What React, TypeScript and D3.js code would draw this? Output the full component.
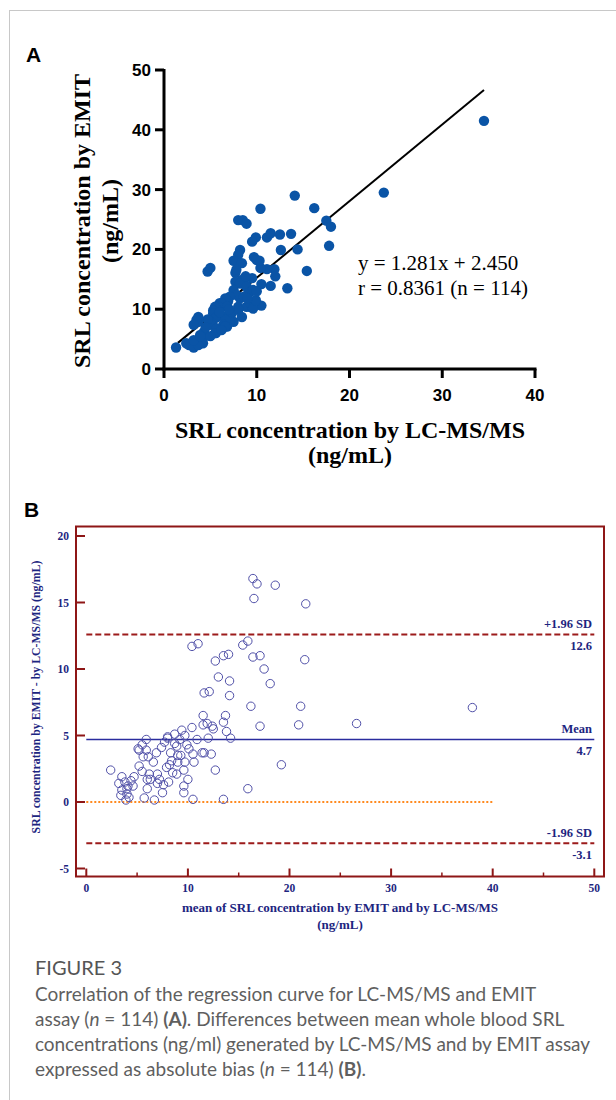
import React from "react";
import * as d3 from "d3";

// Panel A: SRL by LC-MS/MS (x) vs SRL by EMIT (y), ng/mL
const scatterA: [number, number][] = [
  [34.5, 41.5], [23.7, 29.5], [14.1, 29.0], [16.2, 26.9], [10.4, 26.8], [17.5, 24.8], [18.0, 23.8], [17.8, 20.6],
  [8.0, 24.9], [8.5, 24.9], [8.9, 24.3], [9.9, 22.0], [9.5, 21.3], [11.1, 22.0], [11.5, 22.7], [12.5, 22.5], [13.7, 22.6],
  [12.6, 19.9], [14.4, 20.0], [15.4, 16.4], [13.3, 13.5], [11.5, 13.9], [11.9, 16.7], [11.1, 16.7], [10.4, 16.9], [10.3, 18.1], [9.7, 18.7], [10.0, 18.2],
  [10.5, 14.2], [10.5, 10.6], [9.5, 15.2], [8.2, 19.9], [8.0, 19.1], [7.5, 18.1], [8.4, 17.7], [7.7, 16.1], [7.8, 16.6], [4.7, 16.3], [5.0, 16.9],
  [8.4, 14.9], [8.8, 14.0], [7.7, 14.6], [8.2, 14.3], [7.5, 13.2], [8.9, 13.8], [9.3, 12.9], [9.1, 12.7], [9.6, 13.2], [8.2, 11.8], [7.8, 12.4], [7.1, 12.1], [8.6, 12.1],
  [9.3, 10.4], [8.0, 10.4], [8.9, 10.4], [9.3, 11.0], [9.6, 10.1], [6.9, 11.3], [6.6, 11.8], [6.0, 11.0], [6.2, 11.0], [5.9, 10.4], [6.8, 10.4], [5.5, 10.4], [5.3, 9.8],
  [5.3, 9.3], [7.3, 9.3], [8.0, 9.9], [8.4, 8.7], [5.7, 8.7], [6.6, 8.7], [5.5, 8.5], [7.1, 9.3], [7.5, 7.9], [7.1, 7.9], [6.6, 8.2], [4.8, 8.2], [6.4, 7.4], [5.2, 7.6], [5.1, 7.4],
  [5.7, 6.8], [6.8, 7.1], [6.6, 7.1], [5.6, 6.0], [5.5, 6.0], [4.7, 8.3], [3.7, 7.9], [3.7, 8.7], [3.5, 8.2], [3.2, 7.4], [4.3, 6.2], [3.9, 5.7], [4.2, 5.1], [4.2, 4.3], [3.9, 4.3],
  [3.4, 4.0], [2.7, 4.0], [3.0, 4.3], [2.4, 4.3], [3.2, 3.6], [3.7, 4.0], [3.2, 4.8], [3.9, 5.5], [1.3, 3.6], [9.9, 11.5], [10.0, 13.0], [7.0, 10.0], [6.0, 9.5], [4.5, 7.0],
  [8.8, 15.5], [9.0, 11.8], [5.0, 5.5], [6.2, 6.5], [12.0, 15.5],
];
const slope = 1.281;
const intercept = 2.45;
const fitRange = [1.5, 34.5];
const ticksA_x = [0, 10, 20, 30, 40];
const ticksA_y = [0, 10, 20, 30, 40, 50];

// Panel B: Bland-Altman, mean of methods (x) vs difference EMIT - LC-MS/MS (y)
const blandB: [number, number][] = [
  [16.4, 16.8], [16.8, 16.4], [18.6, 16.3], [16.5, 15.3], [21.6, 14.9], [10.4, 11.7], [11.0, 11.9], [15.4, 11.8], [15.9, 12.1], [16.4, 10.9],
  [17.1, 11.0], [13.5, 11.0], [14.0, 11.1], [12.7, 10.6], [21.5, 10.7], [17.5, 10.0], [13.0, 9.4], [14.1, 9.1], [18.1, 8.9], [11.6, 8.2],
  [12.1, 8.3], [14.1, 8.0], [16.2, 7.2], [21.1, 7.2], [38.0, 7.1], [11.5, 6.5], [13.7, 6.5], [13.5, 6.0], [11.5, 5.8], [12.4, 5.7],
  [12.5, 5.5], [10.4, 5.6], [9.4, 5.4], [17.1, 5.7], [20.9, 5.8], [26.6, 5.9], [13.8, 5.3], [14.2, 4.8], [8.7, 5.1], [8.0, 4.9],
  [9.2, 4.7], [10.9, 4.7], [5.9, 4.7], [7.7, 4.5], [8.9, 4.2], [10.1, 4.0], [5.1, 4.0], [5.9, 3.9], [5.5, 4.3], [6.9, 3.7],
  [8.3, 3.7], [10.5, 3.6], [11.4, 3.7], [11.6, 3.7], [12.3, 3.6], [5.6, 3.4], [6.1, 3.4], [9.0, 3.5], [8.4, 3.1], [9.7, 3.0],
  [9.0, 3.0], [10.6, 3.0], [5.2, 2.7], [8.5, 2.2], [8.9, 2.1], [9.6, 2.4], [12.7, 2.4], [19.2, 2.8], [2.4, 2.4], [6.2, 2.1],
  [7.0, 2.1], [4.7, 1.9], [3.5, 1.9], [6.3, 1.7], [7.2, 1.7], [10.0, 1.7], [3.8, 1.5], [3.2, 1.4], [4.6, 1.2], [4.1, 1.2],
  [7.0, 1.4], [7.6, 1.3], [8.1, 1.5], [9.6, 1.2], [6.0, 1.0], [3.5, 0.9], [4.0, 0.6], [7.5, 0.7], [9.6, 0.7], [15.9, 1.0],
  [3.4, 0.5], [5.7, 0.3], [6.7, 0.15], [3.9, 0.15], [10.5, 0.2], [13.5, 0.2], [4.2, 0.35], [8.7, 4.4], [9.3, 3.5], [5.2, 3.9],
  [8.0, 4.8], [6.0, 1.7], [4.4, 1.6], [7.9, 2.6], [6.6, 3.0], [9.9, 4.3], [11.9, 5.9], [4.0, 1.0], [8.2, 2.8], [12.0, 4.8],
  [9.7, 5.0], [5.5, 2.3], [7.4, 4.1],
];
const meanDiff = 4.7;
const upperLoA = 12.6;
const lowerLoA = -3.1;
const ticksB_x = [0, 10, 20, 30, 40, 50];
const minorB_x = [5, 15, 25, 35, 45];
const ticksB_y = [-5, 0, 5, 10, 15, 20];

const serif = "'Liberation Serif', 'Times New Roman', serif";
const sans = "'Liberation Sans', Arial, sans-serif";
const navy = "#1d2580";
const frameRed = "#8e1616";

const PanelA = () => {
  const x = d3.scaleLinear().domain([0, 40]).range([164, 535]);
  const y = d3.scaleLinear().domain([0, 50]).range([369, 70]);
  const fit = d3.line<number>().x((d) => x(d)).y((d) => y(slope * d + intercept));
  return (
    <g>
      <text x={26} y={62} fontFamily={sans} fontWeight="bold" fontSize={21}>A</text>
      {/* axes */}
      <line x1={x(0)} x2={x(0)} y1={y(50) - 1} y2={y(0) + 1.5} stroke="#000" strokeWidth={3} />
      <line x1={x(0) - 1.5} x2={x(40) + 1.5} y1={y(0)} y2={y(0)} stroke="#000" strokeWidth={3} />
      {ticksA_y.map((t) => (
        <g key={"ya" + t}>
          <line x1={x(0) - 9} x2={x(0)} y1={y(t)} y2={y(t)} stroke="#000" strokeWidth={3} />
          <text x={x(0) - 13} y={y(t) + 6} textAnchor="end" fontFamily={sans} fontWeight="bold" fontSize={17}>{t}</text>
        </g>
      ))}
      {ticksA_x.map((t) => (
        <g key={"xa" + t}>
          <line x1={x(t)} x2={x(t)} y1={y(0)} y2={y(0) + 9} stroke="#000" strokeWidth={3} />
          <text x={x(t)} y={y(0) + 32} textAnchor="middle" fontFamily={sans} fontWeight="bold" fontSize={17}>{t}</text>
        </g>
      ))}
      <path d={fit(fitRange) || ""} stroke="#000" strokeWidth={2} fill="none" />
      {scatterA.map((d, i) => (
        <circle key={i} cx={x(d[0])} cy={y(d[1])} r={5.2} fill="#0a54a6" />
      ))}
      <text x={358} y={270} fontFamily={serif} fontSize={21}>y = 1.281x + 2.450</text>
      <text x={358} y={295} fontFamily={serif} fontSize={21}>r = 0.8361 (n = 114)</text>
      {/* axis titles */}
      <g transform="translate(90,221) rotate(-90)">
        <text textAnchor="middle" fontFamily={serif} fontWeight="bold" fontSize={24}>SRL concentration by EMIT</text>
        <text y={28} textAnchor="middle" fontFamily={serif} fontWeight="bold" fontSize={24}>(ng/mL)</text>
      </g>
      <text x={350} y={438} textAnchor="middle" fontFamily={serif} fontWeight="bold" fontSize={24}>SRL concentration by LC-MS/MS</text>
      <text x={350} y={463} textAnchor="middle" fontFamily={serif} fontWeight="bold" fontSize={24}>(ng/mL)</text>
    </g>
  );
};

const PanelB = () => {
  const x = d3.scaleLinear().domain([0, 50]).range([86.3, 594.3]);
  const y = d3.scaleLinear().domain([-5, 20]).range([868.5, 536]);
  const left = 76, right = 604, top = 526.5, bottom = 876.5;
  return (
    <g>
      <text x={24} y={517} fontFamily={sans} fontWeight="bold" fontSize={21}>B</text>
      {/* reference lines */}
      <line x1={x(0)} x2={x(50)} y1={y(upperLoA)} y2={y(upperLoA)} stroke="#9c1b1b" strokeWidth={2} strokeDasharray="6,3" />
      <line x1={x(0)} x2={x(50)} y1={y(lowerLoA)} y2={y(lowerLoA)} stroke="#9c1b1b" strokeWidth={2} strokeDasharray="6,3" />
      <line x1={x(0)} x2={x(50)} y1={y(meanDiff)} y2={y(meanDiff)} stroke="#2a2c9e" strokeWidth={1.6} />
      <line x1={x(0)} x2={x(40)} y1={y(0)} y2={y(0)} stroke="#ff8a1e" strokeWidth={2} strokeDasharray="2,2" />
      {blandB.map((d, i) => (
        <circle key={i} cx={x(d[0])} cy={y(d[1])} r={4.2} fill="none" stroke="#5050a8" strokeWidth={1} />
      ))}
      <g fontFamily={serif} fontWeight="bold" fontSize={12.5} fill={navy} textAnchor="end">
        <text x={592} y={y(upperLoA) - 6}>+1.96 SD</text>
        <text x={592} y={y(upperLoA) + 16}>12.6</text>
        <text x={592} y={y(meanDiff) - 6}>Mean</text>
        <text x={592} y={y(meanDiff) + 16}>4.7</text>
        <text x={592} y={y(lowerLoA) - 6}>-1.96 SD</text>
        <text x={592} y={y(lowerLoA) + 16}>-3.1</text>
      </g>
      {/* frame */}
      <rect x={left} y={top} width={right - left} height={bottom - top} fill="none" stroke={frameRed} strokeWidth={2} />
      {ticksB_y.map((t) => (
        <g key={"yb" + t}>
          <line x1={left} x2={left + 9} y1={y(t)} y2={y(t)} stroke={frameRed} strokeWidth={2} />
          <text x={69} y={y(t) + 4} textAnchor="end" fontFamily={serif} fontWeight="bold" fontSize={11.5} fill={navy}>{t}</text>
        </g>
      ))}
      {ticksB_x.map((t) => (
        <g key={"xb" + t}>
          <line x1={x(t)} x2={x(t)} y1={bottom} y2={bottom - 8} stroke={frameRed} strokeWidth={2} />
          <text x={x(t)} y={bottom + 15} textAnchor="middle" fontFamily={serif} fontWeight="bold" fontSize={11.5} fill={navy}>{t}</text>
        </g>
      ))}
      {minorB_x.map((t) => (
        <line key={"mb" + t} x1={x(t)} x2={x(t)} y1={bottom} y2={bottom - 4} stroke={frameRed} strokeWidth={1.5} />
      ))}
      <text x={340} y={912} textAnchor="middle" fontFamily={serif} fontWeight="bold" fontSize={13} fill={navy}>mean of SRL concentration by EMIT and by LC-MS/MS</text>
      <text x={340} y={929} textAnchor="middle" fontFamily={serif} fontWeight="bold" fontSize={13} fill={navy}>(ng/mL)</text>
      <text transform="translate(40,697) rotate(-90)" textAnchor="middle" fontFamily={serif} fontWeight="bold" fontSize={11.8} fill={navy}>SRL concentration by EMIT - by LC-MS/MS (ng/mL)</text>
    </g>
  );
};

const Caption = () => {
  const f = "Lato, 'Open Sans', sans-serif";
  return (
    <g fontFamily={f} fill="#5f5f5f" fontSize={19}>
      <text x={35} y={975} fontSize={20} fill="#555">FIGURE 3</text>
      <text x={35} y={1001}>Correlation of the regression curve for LC-MS/MS and EMIT</text>
      <text x={35} y={1026}>
        assay (<tspan fontStyle="italic">n</tspan> = 114) <tspan fontWeight="bold">(A)</tspan>. Differences between mean whole blood SRL
      </text>
      <text x={35} y={1051} textLength={555} lengthAdjust="spacing">concentrations (ng/ml) generated by LC-MS/MS and by EMIT assay</text>
      <text x={35} y={1076}>
        expressed as absolute bias (<tspan fontStyle="italic">n</tspan> = 114) <tspan fontWeight="bold">(B)</tspan>.
      </text>
    </g>
  );
};

export default function App() {
  return (
    <div style={{ position: "absolute", left: 0, top: 0 }}>
      <svg width={616} height={1100} style={{ display: "block", background: "#fff" }}>
        <rect x={9.5} y={10.5} width={700} height={1200} fill="none" stroke="#c8c8c8" strokeWidth={1} />
        <PanelA />
        <PanelB />
        <Caption />
      </svg>
    </div>
  );
}
